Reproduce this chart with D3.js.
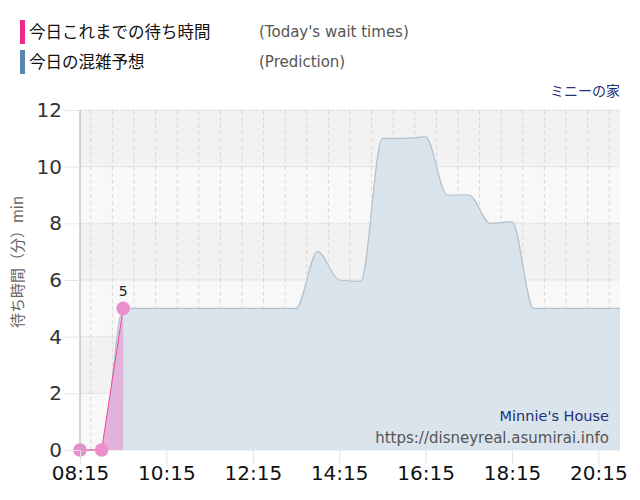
<!DOCTYPE html>
<html>
<head>
<meta charset="utf-8">
<script src="https://cdn.jsdelivr.net/npm/d3@7"></script>
<style>
  body { margin: 0; background: #fff; }
</style>
</head>
<body>
<div id="chart"></div>
<script>
// time slots (30 min), prediction values, and today's actual values
const predTimes = ["08:15","08:45","09:15","09:45","10:15","10:45","11:15","11:45","12:15","12:45",
  "13:15","13:45","14:15","14:45","15:15","15:45","16:15","16:45","17:15","17:45",
  "18:15","18:45","19:15","19:45","20:15","20:45"];
const predValues = [0, 0, 5, 5, 5, 5, 5, 5, 5, 5,
  5, 7, 6, 5.95, 11, 11, 11.05, 9, 9, 8,
  8.05, 5, 5, 5, 5, 5];
const actualTimes = ["08:15", "08:45", "09:15"];
const actualValues = [0, 0, 5];
const yTicks = [0, 2, 4, 6, 8, 10, 12];
const xTickLabels = ["08:15","10:15","12:15","14:15","16:15","18:15","20:15"];

const W = 640, H = 500;
const margin = { top: 110, right: 20, bottom: 50, left: 80 };
const parse = s => d3.timeParse("%H:%M")(s);
const JP = '"Noto Sans CJK JP", sans-serif';
const EN = '"DejaVu Sans", Verdana, sans-serif';

const svg = d3.select('#chart').append('svg')
  .attr('width', W).attr('height', H);

const x = d3.scaleTime()
  .domain([parse("08:15"), parse("20:45")])
  .range([margin.left, W - margin.right]);
const y = d3.scaleLinear()
  .domain([0, 12])
  .range([H - margin.bottom, margin.top]);

// background bands
const bands = d3.pairs(yTicks);
svg.append('g').selectAll('rect')
  .data(bands)
  .enter().append('rect')
  .attr('x', x.range()[0])
  .attr('width', x.range()[1] - x.range()[0])
  .attr('y', d => y(d[1]))
  .attr('height', d => y(d[0]) - y(d[1]))
  .attr('fill', (d, i) => i % 2 === 0 ? '#f8f8f8' : '#f2f2f2');

// vertical grid every 30 min
const gridTimes = d3.timeMinute.every(30).range(parse("08:15"), parse("20:46"));
svg.append('g').selectAll('line')
  .data(gridTimes)
  .enter().append('line')
  .attr('x1', d => x(d)).attr('x2', d => x(d))
  .attr('y1', y(12)).attr('y2', y(0))
  .attr('stroke', '#d8d8d8')
  .attr('stroke-dasharray', '4,3');

// horizontal grid
svg.append('g').selectAll('line')
  .data(yTicks)
  .enter().append('line')
  .attr('x1', x.range()[0]).attr('x2', x.range()[1])
  .attr('y1', d => y(d)).attr('y2', d => y(d))
  .attr('stroke', '#cfcfcf')
  .attr('stroke-dasharray', '1,1');

// prediction area
const pred = predTimes.map((t, i) => ({ t: parse(t), v: predValues[i] }));
const area = d3.area()
  .x(d => x(d.t)).y0(y(0)).y1(d => y(d.v))
  .curve(d3.curveMonotoneX);
const line = d3.line()
  .x(d => x(d.t)).y(d => y(d.v))
  .curve(d3.curveMonotoneX);
svg.append('path').datum(pred)
  .attr('d', area)
  .attr('fill', '#d6e1ea')
  .attr('fill-opacity', 0.9);
svg.append('path').datum(pred)
  .attr('d', line)
  .attr('fill', 'none')
  .attr('stroke', '#b3c1cd')
  .attr('stroke-width', 1.2);

// actual area / line / points
const actual = actualTimes.map((t, i) => ({ t: parse(t), v: actualValues[i] }));
svg.append('path').datum(actual)
  .attr('d', d3.area().x(d => x(d.t)).y0(y(0)).y1(d => y(d.v)))
  .attr('fill', '#e2b2da');
svg.append('path').datum(actual)
  .attr('d', d3.line().x(d => x(d.t)).y(d => y(d.v)))
  .attr('fill', 'none')
  .attr('stroke', '#f0479f')
  .attr('stroke-width', 1);
svg.append('g').selectAll('circle')
  .data(actual)
  .enter().append('circle')
  .attr('cx', d => x(d.t)).attr('cy', d => y(d.v))
  .attr('r', 6.8)
  .attr('fill', '#eb8fca');
const last = actual[actual.length - 1];
svg.append('text')
  .attr('x', x(last.t)).attr('y', y(last.v) - 12)
  .attr('text-anchor', 'middle')
  .style('font-family', EN)
  .attr('font-size', 14).attr('fill', '#222')
  .text(last.v);

// left axis line
svg.append('line')
  .attr('x1', x.range()[0]).attr('x2', x.range()[0])
  .attr('y1', y(12)).attr('y2', y(0))
  .attr('stroke', '#aaa');

// y axis
const yAxis = svg.append('g')
  .attr('transform', `translate(${margin.left},0)`)
  .call(d3.axisLeft(y).tickValues(yTicks).tickSize(15).tickPadding(3));
yAxis.select('.domain').remove();
yAxis.selectAll('line').attr('stroke', '#e6e6e6');
yAxis.selectAll('text')
  .style('font-family', EN)
  .attr('font-size', 20).attr('fill', '#333');

// x axis
const xAxis = svg.append('g')
  .attr('transform', `translate(0,${y(0)})`)
  .call(d3.axisBottom(x)
    .tickValues(xTickLabels.map(parse))
    .tickFormat(d3.timeFormat("%H:%M"))
    .tickSize(14).tickPadding(2));
xAxis.select('.domain').remove();
xAxis.selectAll('line').attr('stroke', '#e3e3e3');
xAxis.selectAll('text')
  .style('font-family', EN)
  .attr('font-size', 20).attr('fill', '#111');

// y axis title
svg.append('text')
  .attr('transform', `translate(23,${(y(0) + y(12)) / 2 - 18}) rotate(-90)`)
  .attr('text-anchor', 'middle')
  .style('font-family', JP)
  .attr('font-size', 15).attr('fill', '#666')
  .text('待ち時間（分）min');

// legend
const legend = [
  { jp: '今日これまでの待ち時間', en: "(Today's wait times)", color: '#ee2a8e', y: 20 },
  { jp: '今日の混雑予想', en: '(Prediction)', color: '#5a86b4', y: 50 }
];
const lg = svg.append('g').selectAll('g')
  .data(legend).enter().append('g');
lg.append('rect')
  .attr('x', 20).attr('y', d => d.y)
  .attr('width', 5).attr('height', 24)
  .attr('fill', d => d.color);
lg.append('text')
  .attr('x', 29).attr('y', d => d.y + 18)
  .style('font-family', JP)
  .attr('font-size', 16.5).attr('fill', '#111')
  .text(d => d.jp);
lg.append('text')
  .attr('x', 259).attr('y', d => d.y + 17)
  .style('font-family', EN)
  .attr('font-size', 15).attr('fill', '#555')
  .text(d => d.en);

// attraction name
svg.append('text')
  .attr('x', 620).attr('y', 96)
  .attr('text-anchor', 'end')
  .style('font-family', JP)
  .attr('font-size', 14).attr('fill', '#23307a')
  .text('ミニーの家');

svg.append('text')
  .attr('x', 609).attr('y', 421)
  .attr('text-anchor', 'end')
  .style('font-family', EN)
  .attr('font-size', 14.5).attr('fill', '#23307a')
  .text("Minnie's House");
svg.append('text')
  .attr('x', 609).attr('y', 443)
  .attr('text-anchor', 'end')
  .style('font-family', EN)
  .attr('font-size', 15).attr('fill', '#555')
  .text('https://disneyreal.asumirai.info');
</script>
</body>
</html>
